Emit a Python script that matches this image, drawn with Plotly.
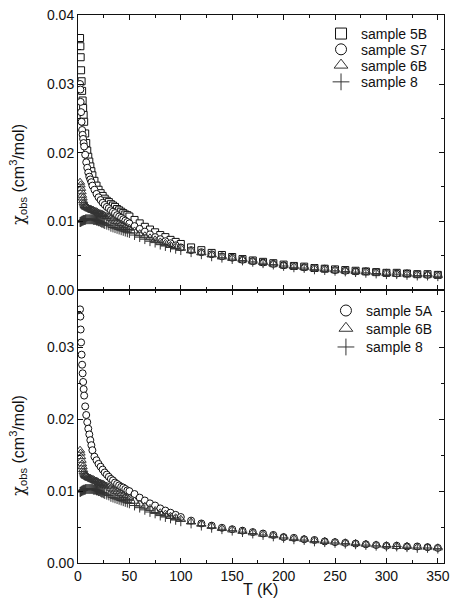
import plotly.graph_objects as go

# ---------------- data ----------------
T_main = [2, 2.3, 2.6, 3, 3.5, 4, 4.5, 5, 5.5, 6, 7, 8, 9, 10, 11, 12, 13, 14,
          16, 18, 20, 22, 24, 26, 28, 30, 32, 34, 36, 38, 40, 42, 44, 46, 48, 50,
          55, 60, 65, 70, 75, 80, 85, 90, 95, 100,
          110, 120, 130, 140, 150, 160, 170, 180, 190, 200, 210, 220, 230, 240,
          250, 260, 270, 280, 290, 300, 310, 320, 330, 340, 350]

T_dense = [2, 2.5, 3, 3.5, 4, 4.5, 5, 5.5, 6, 6.5, 7, 7.5, 8, 9, 10, 11, 12, 13,
           14, 15, 16, 17, 18, 19, 20, 21, 22, 23, 24, 25, 26, 28, 30, 32, 34, 36,
           38, 40, 42, 44, 46, 48, 50,
           55, 60, 65, 70, 75, 80, 85, 90, 95, 100,
           110, 120, 130, 140, 150, 160, 170, 180, 190, 200, 210, 220, 230, 240,
           250, 260, 270, 280, 290, 300, 310, 320, 330, 340, 350]

chi_5B = [0.0367, 0.0355, 0.0339, 0.0320, 0.0304, 0.0290, 0.0276, 0.0265, 0.0255, 0.0245,
          0.0228, 0.0214, 0.0203, 0.0194, 0.0187, 0.0180, 0.0173, 0.0167,
          0.0159, 0.0152, 0.0146, 0.0141, 0.0137, 0.0133, 0.0130, 0.0128, 0.0125, 0.0123,
          0.0121, 0.0118, 0.0116, 0.0114, 0.0112, 0.0110, 0.0109, 0.0107,
          0.0102, 0.0097, 0.0092, 0.0088, 0.0084, 0.0080, 0.0077, 0.0073, 0.0070, 0.0067,
          0.0062, 0.0058, 0.0054, 0.0051, 0.0048, 0.0045, 0.0043, 0.0041, 0.0039, 0.0037,
          0.0035, 0.0034, 0.0032, 0.0031, 0.0030, 0.0029, 0.0028, 0.0027, 0.0026, 0.0025,
          0.0025, 0.0024, 0.0023, 0.0023, 0.0022]

chi_S7 = [0.0300, 0.0292, 0.0274, 0.0259, 0.0245, 0.0233, 0.0226, 0.0220, 0.0214, 0.0209,
          0.0197, 0.0186, 0.0178, 0.0171, 0.0165, 0.0161, 0.0157, 0.0152,
          0.0146, 0.0140, 0.0135, 0.0131, 0.0127, 0.0124, 0.0121, 0.0119, 0.0116, 0.0114,
          0.0112, 0.0109, 0.0107, 0.0105, 0.0103, 0.0101, 0.0099, 0.0097,
          0.0093, 0.0089, 0.0085, 0.0081, 0.0077, 0.0074, 0.0071, 0.0068, 0.0065, 0.0062,
          0.0058, 0.0055, 0.0052, 0.0049, 0.0047, 0.0044, 0.0042, 0.0040, 0.0038, 0.0036,
          0.0035, 0.0033, 0.0032, 0.0031, 0.0029, 0.0028, 0.0027, 0.0027, 0.0026, 0.0025,
          0.0024, 0.0024, 0.0023, 0.0022, 0.0022]

chi_5A = [0.0353, 0.0343, 0.0325, 0.0307, 0.0290, 0.0276, 0.0264, 0.0252, 0.0242, 0.0233,
          0.0218, 0.0206, 0.0196, 0.0187, 0.0179, 0.0171, 0.0164, 0.0157,
          0.0148, 0.0143, 0.0138, 0.0134, 0.0130, 0.0126, 0.0123, 0.0120, 0.0117, 0.0115,
          0.0112, 0.0110, 0.0108, 0.0106, 0.0105, 0.0103, 0.0101, 0.0100,
          0.0096, 0.0091, 0.0087, 0.0083, 0.0080, 0.0076, 0.0073, 0.0070, 0.0067, 0.0064,
          0.0059, 0.0055, 0.0052, 0.0049, 0.0047, 0.0045, 0.0043, 0.0041, 0.0039, 0.0036,
          0.0035, 0.0033, 0.0032, 0.0030, 0.0029, 0.0028, 0.0027, 0.0026, 0.0025, 0.0024,
          0.0024, 0.0023, 0.0023, 0.0022, 0.0021]

chi_6B = [0.0157, 0.0153, 0.0148, 0.0143, 0.0138, 0.0134, 0.0130, 0.0127, 0.0125, 0.0123,
          0.0122, 0.0121, 0.0121, 0.0120, 0.0119, 0.0118, 0.0118, 0.0117,
          0.0116, 0.0116, 0.0115, 0.0114, 0.0114, 0.0113, 0.0112, 0.0111, 0.0111, 0.0110,
          0.0110, 0.0109, 0.0108, 0.0107, 0.0106, 0.0104, 0.0102, 0.0100,
          0.0099, 0.0097, 0.0096, 0.0094, 0.0092, 0.0091, 0.0090,
          0.0086, 0.0082, 0.0079, 0.0076, 0.0073, 0.0070, 0.0068, 0.0065, 0.0063, 0.0061,
          0.0057, 0.0054, 0.0051, 0.0048, 0.0046, 0.0044, 0.0042, 0.0040, 0.0038, 0.0036,
          0.0034, 0.0033, 0.0031, 0.0030, 0.0029, 0.0028, 0.0027, 0.0026, 0.0025, 0.0024,
          0.0023, 0.0023, 0.0022, 0.0022, 0.0021]

chi_8 = [0.0099, 0.0099, 0.0100, 0.0100, 0.0101, 0.0101, 0.0101, 0.0102, 0.0102, 0.0102,
         0.0102, 0.0103, 0.0103, 0.0103, 0.0103, 0.0103, 0.0103, 0.0103,
         0.0103, 0.0102, 0.0102, 0.0102, 0.0101, 0.0101, 0.0100, 0.0100, 0.0099, 0.0098,
         0.0098, 0.0097, 0.0096, 0.0095, 0.0094, 0.0092, 0.0091, 0.0090,
         0.0089, 0.0088, 0.0087, 0.0086, 0.0085, 0.0084, 0.0083,
         0.0080, 0.0077, 0.0074, 0.0071, 0.0069, 0.0066, 0.0064, 0.0062, 0.0060, 0.0058,
         0.0055, 0.0052, 0.0049, 0.0047, 0.0045, 0.0043, 0.0041, 0.0039, 0.0037, 0.0035,
         0.0033, 0.0032, 0.0030, 0.0029, 0.0028, 0.0027, 0.0026, 0.0025, 0.0024, 0.0023,
         0.0023, 0.0022, 0.0021, 0.0021, 0.0020]

x_ticks = [0, 50, 100, 150, 200, 250, 300, 350]
y_ticks_top = [0.00, 0.01, 0.02, 0.03, 0.04]
y_ticks_bottom = [0.00, 0.01, 0.02, 0.03]

# ---------------- figure ----------------
FONT = "Liberation Sans, Arial, Helvetica, sans-serif"
INK = "#111111"
GREY = "#333333"

W, H = 457, 604
ML, MR, MT, MB = 78, 7, 7, 41
PW, PH = W - ML - MR, H - MT - MB


def px_x(px):
    return (px - ML) / PW


def px_y(py):
    return (H - MB - py) / PH


STYLE = {
    "square": dict(symbol="square", fill="white", size=7, lsize=11),
    "circle": dict(symbol="circle", fill="white", size=7, lsize=11),
    "triangle": dict(symbol="triangle-up-open", fill=GREY, size=8, lsize=12),
    "cross": dict(symbol="cross-thin-open", fill=GREY, size=7, lsize=12),
}


def marker(kind, legend=False):
    s = STYLE[kind]
    col = GREY if s["fill"] == GREY else INK
    return dict(symbol=s["symbol"], size=s["lsize"] if legend else s["size"],
                color=s["fill"], line=dict(color=col, width=1))


fig = go.Figure()

# (name, T, chi, kind, panel, legend id)
series = [
    ("sample 5B", T_main, chi_5B, "square", "top", "legend"),
    ("sample S7", T_main, chi_S7, "circle", "top", "legend2"),
    ("sample 6B", T_dense, chi_6B, "triangle", "top", "legend3"),
    ("sample 8", T_dense, chi_8, "cross", "top", "legend4"),
    ("sample 5A", T_main, chi_5A, "circle", "bottom", "legend5"),
    ("sample 6B", T_dense, chi_6B, "triangle", "bottom", "legend6"),
    ("sample 8", T_dense, chi_8, "cross", "bottom", "legend7"),
]

for name, T, chi, kind, panel, leg in series:
    xa, ya = ("x2", "y2") if panel == "top" else ("x", "y")
    fig.add_trace(go.Scatter(x=T, y=chi, mode="markers", name=name,
                             marker=marker(kind), xaxis=xa, yaxis=ya,
                             showlegend=False, hoverinfo="skip"))
    # legend key only (no data point drawn)
    fig.add_trace(go.Scatter(x=[None], y=[None], mode="markers", name=name,
                             marker=marker(kind, legend=True), xaxis=xa, yaxis=ya,
                             legend=leg, showlegend=True))

axis_common = dict(showline=True, linecolor=INK, linewidth=1, mirror="ticks",
                   ticks="inside", ticklen=5, tickwidth=1, tickcolor=INK,
                   showgrid=False, zeroline=False,
                   tickfont=dict(family=FONT, size=14, color=INK))
minor_x = dict(dtick=25, tick0=0, ticks="inside", ticklen=3, tickcolor=INK)
minor_y = dict(dtick=0.005, tick0=0, ticks="inside", ticklen=3, tickcolor=INK)

split = px_y(286)

layout = dict(
    width=W, height=H,
    margin=dict(l=ML, r=MR, t=MT, b=MB),
    paper_bgcolor="white", plot_bgcolor="white",
    font=dict(family=FONT, size=14, color=INK),
    xaxis=dict(domain=[0, 1], anchor="y", range=[0, 356], tickvals=x_ticks,
               minor=minor_x, **axis_common),
    xaxis2=dict(domain=[0, 1], anchor="y2", range=[0, 356], tickvals=x_ticks,
                showticklabels=False, matches="x", minor=minor_x, **axis_common),
    yaxis=dict(domain=[0, split], anchor="x", range=[0, 0.038],
               tickvals=y_ticks_bottom, tickformat=".2f", minor=minor_y, **axis_common),
    yaxis2=dict(domain=[split, 1], anchor="x2", range=[0, 0.04005],
                tickvals=y_ticks_top, tickformat=".2f", minor=minor_y, **axis_common),
    showlegend=True,
)

# legend rows: (legend id, left px, top px)
legend_rows = [
    ("legend", 325, 10), ("legend2", 325, 26), ("legend3", 325, 42), ("legend4", 325, 59),
    ("legend5", 330, 291), ("legend6", 330, 309), ("legend7", 330, 328),
]
for leg, left, top in legend_rows:
    layout[leg] = dict(x=px_x(left), y=px_y(top), xanchor="left", yanchor="top",
                       bgcolor="rgba(0,0,0,0)", borderwidth=0, itemsizing="trace",
                       font=dict(family=FONT, size=14, color=INK))

fig.update_layout(**layout)

ytitle = ("<span style=\"font-family:'DejaVu Serif'\">χ</span><sub>obs</sub> "
          "(cm<sup>3</sup>/mol)")
for cy in (168, 443):
    fig.add_annotation(text=ytitle, textangle=-90, xref="paper", yref="paper",
                       x=px_x(17), y=px_y(cy), xanchor="center", yanchor="middle",
                       showarrow=False, font=dict(family=FONT, size=16, color=INK))
fig.add_annotation(text="T (K)", xref="paper", yref="paper",
                   x=px_x(263), y=px_y(590), xanchor="center", yanchor="middle",
                   showarrow=False, font=dict(family=FONT, size=16, color=INK))

fig.write_html("out.html", config={"displayModeBar": False},
               post_script="document.body.style.margin='0';document.body.style.padding='0';")
